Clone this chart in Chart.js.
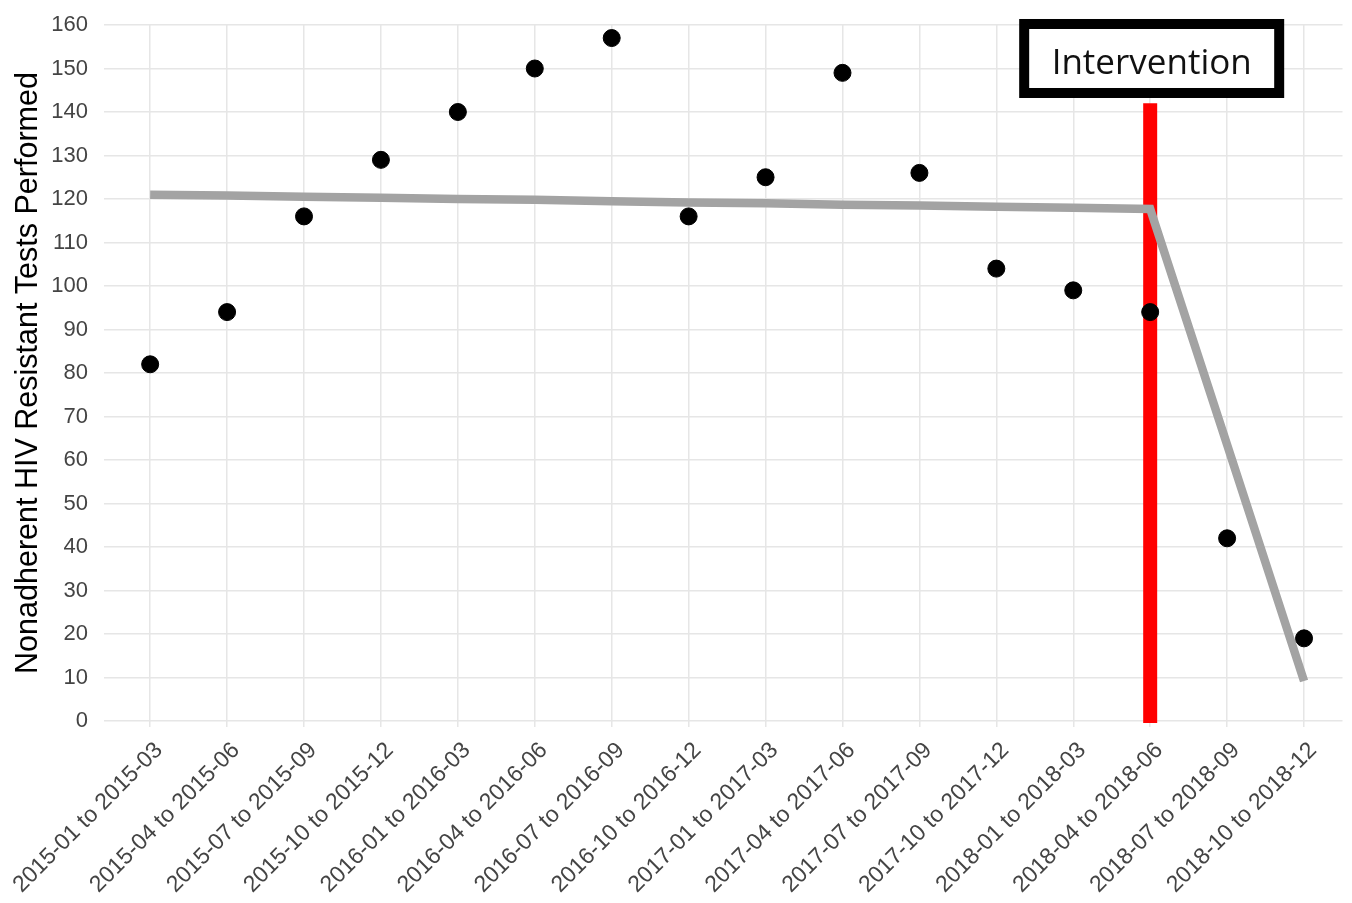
<!DOCTYPE html>
<html>
<head>
<meta charset="utf-8">
<script src="https://cdn.jsdelivr.net/npm/chart.js@4.4.0/dist/chart.umd.min.js"></script>
<style>
  html,body{margin:0;padding:0;background:#fff;}
  #wrap{width:1352px;height:903px;}
</style>
</head>
<body>
<div id="wrap"><canvas id="chart"></canvas></div>
<script>
const periods = ['2015-01 to 2015-03','2015-04 to 2015-06','2015-07 to 2015-09','2015-10 to 2015-12',
  '2016-01 to 2016-03','2016-04 to 2016-06','2016-07 to 2016-09','2016-10 to 2016-12',
  '2017-01 to 2017-03','2017-04 to 2017-06','2017-07 to 2017-09','2017-10 to 2017-12',
  '2018-01 to 2018-03','2018-04 to 2018-06','2018-07 to 2018-09','2018-10 to 2018-12'];
const observed = [82,94,116,129,140,150,157,116,125,149,126,104,99,94,42,19];
const fitted = [121.0,120.8,120.5,120.3,120.0,119.8,119.5,119.2,119.0,118.7,118.5,118.2,118.0,117.7,63.5,9.2];
const interventionIdx = 13;
const interventionTop = 142;
const yTitle = 'Nonadherent HIV Resistant Tests Performed';
const boxText = 'Intervention';

const pts = arr => arr.map((v,i)=>({x:i,y:v}));
const FONT = 'Arial, "Liberation Sans", sans-serif';
const GRID = '#e6e6e6';

// red intervention line sits under everything else
const redLine = {
  id:'redLine',
  beforeDatasetsDraw(c){
    const {ctx, scales:{x,y}} = c;
    const px = x.getPixelForValue(interventionIdx);
    ctx.save();
    ctx.strokeStyle = '#ff0000'; ctx.lineWidth = 14;
    ctx.beginPath();
    ctx.moveTo(px, y.getPixelForValue(interventionTop));
    ctx.lineTo(px, y.getPixelForValue(0)+2);
    ctx.stroke();
    ctx.restore();
  }
};
const labelBox = {
  id:'labelBox',
  afterDraw(c){
    const {ctx, scales:{x,y}} = c;
    const cx = x.getPixelForValue(interventionIdx)+1.5;
    const cy = y.getPixelForValue(152.3);
    const w = 255, h = 69;
    ctx.save();
    ctx.fillStyle = '#fff';
    ctx.fillRect(cx-w/2, cy-h/2, w, h);
    ctx.strokeStyle = '#000'; ctx.lineWidth = 10;
    ctx.strokeRect(cx-w/2, cy-h/2, w, h);
    ctx.fillStyle = '#111';
    ctx.font = '35px "Open Sans", sans-serif';
    ctx.textAlign = 'center'; ctx.textBaseline = 'middle';
    ctx.fillText(boxText, cx, cy+6);
    ctx.restore();
  }
};

new Chart(document.getElementById('chart'), {
  type:'scatter',
  data:{datasets:[
    {type:'scatter', data:pts(observed), backgroundColor:'#000', borderColor:'#000', pointRadius:8.5, pointHoverRadius:8.5, order:1},
    {type:'line', data:pts(fitted), borderColor:'#a3a3a3', borderWidth:8.5, pointRadius:0, fill:false, tension:0, order:2}
  ]},
  options:{
    responsive:true, maintainAspectRatio:false, animation:false,
    layout:{padding:{top:25,right:2,left:0,bottom:0}},
    plugins:{legend:{display:false}, tooltip:{enabled:false}},
    scales:{
      x:{
        type:'linear', min:-0.6, max:15.5,
        afterBuildTicks(s){ s.ticks = periods.map((_,i)=>({value:i})); },
        afterFit(s){ s.height = 182; s.paddingLeft = 0; s.paddingRight = 0; },
        border:{display:false},
        grid:{color:GRID, lineWidth:1.5, drawTicks:true, tickLength:6},
        ticks:{autoSkip:false, minRotation:45, maxRotation:45, padding:10, labelOffset:9,
          color:'#444', font:{family:FONT, size:23},
          callback:v=>periods[v]}
      },
      y:{
        min:0, max:160,
        afterFit(s){ s.width = 104; s.paddingTop = 0; s.paddingBottom = 0; },
        border:{display:false},
        grid:{color:GRID, lineWidth:1.5, drawTicks:false},
        ticks:{stepSize:5, padding:16, color:'#444', font:{family:FONT, size:22},
          callback:v=>v%10===0 ? v : ''},
        title:{display:true, text:yTitle, color:'#000', font:{family:FONT, size:30.5}, padding:{top:10,bottom:0}}
      }
    }
  },
  plugins:[redLine, labelBox]
});
</script>
</body>
</html>
